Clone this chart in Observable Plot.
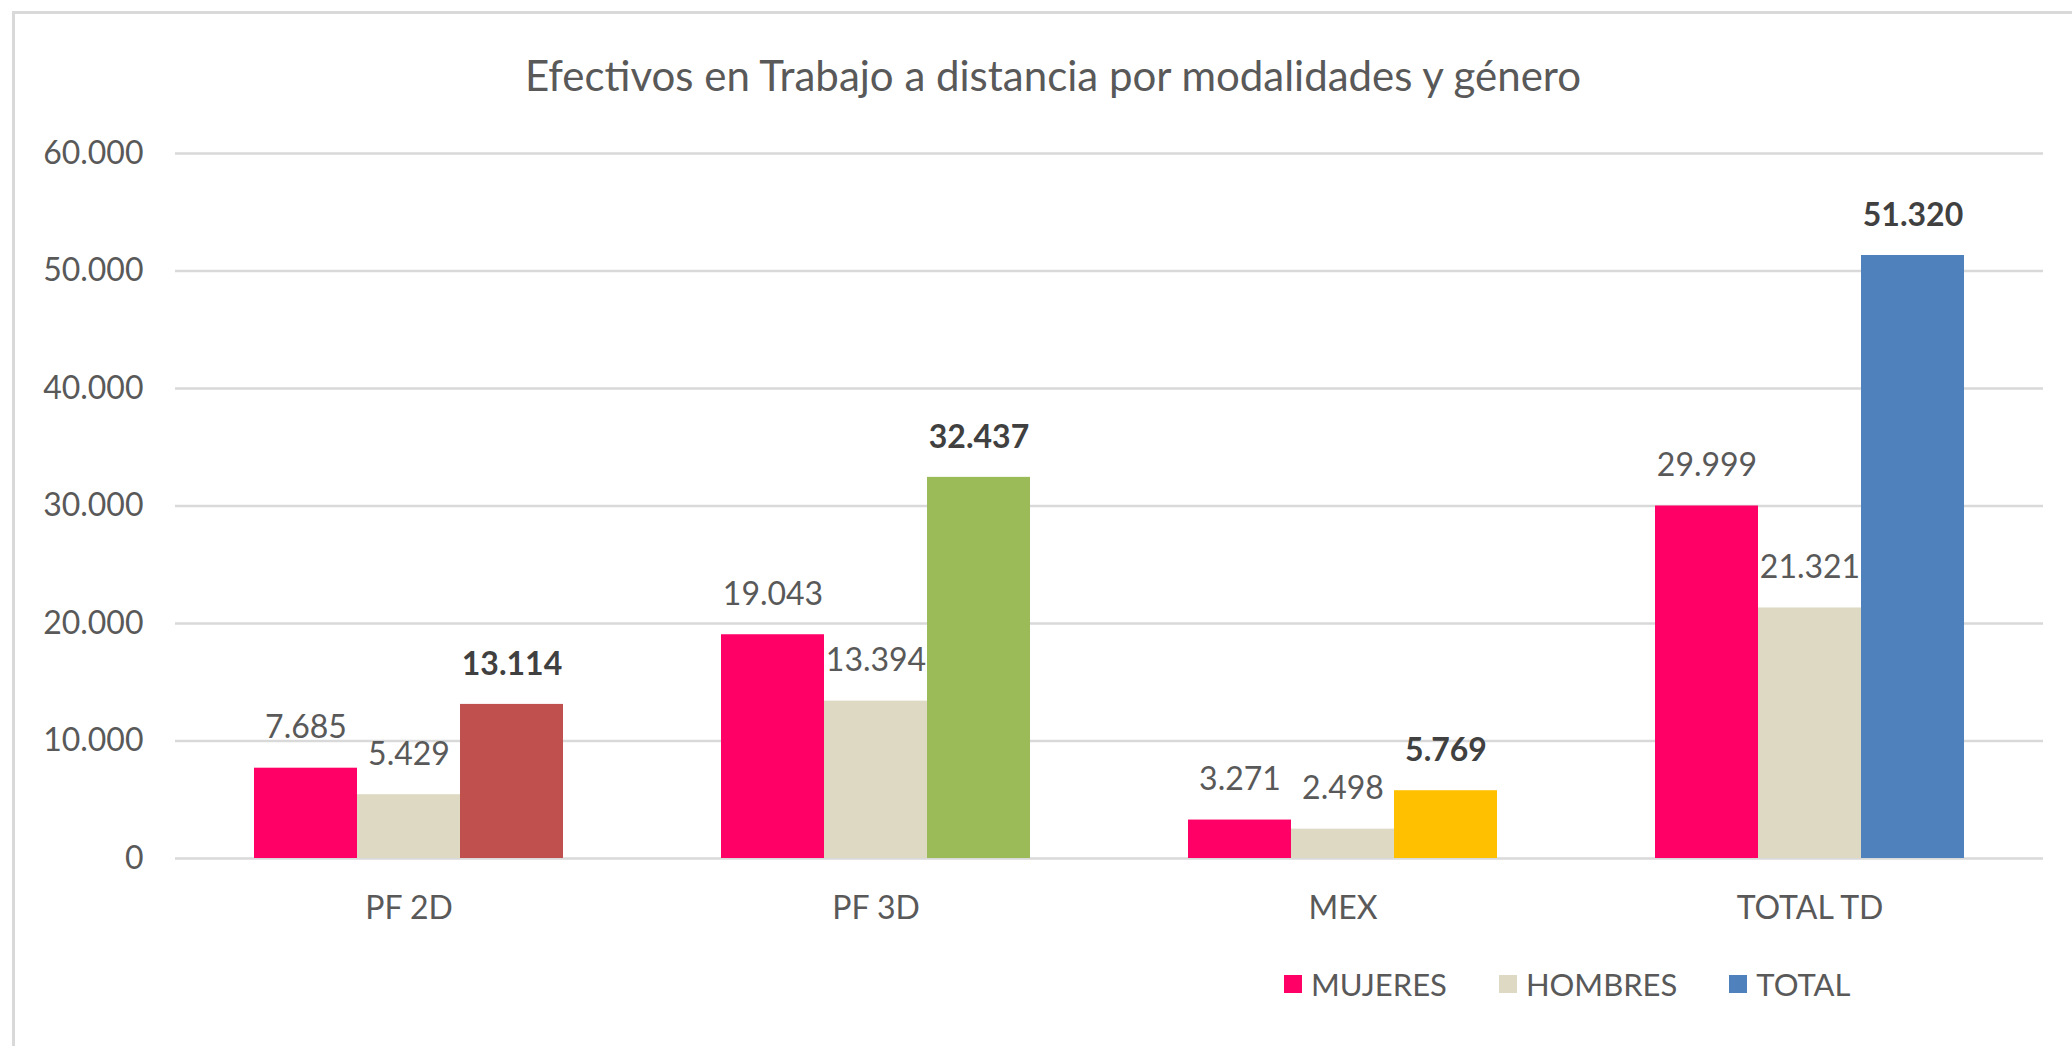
<!DOCTYPE html>
<html>
<head>
<meta charset="utf-8">
<script src="https://cdn.jsdelivr.net/npm/d3@7"></script>
<script src="https://cdn.jsdelivr.net/npm/@observablehq/plot@0.6"></script>
<style>
  html, body { margin: 0; padding: 0; background: #fff; overflow: hidden; }
  body { width: 2072px; height: 1046px; position: relative; font-family: Lato, "Open Sans", sans-serif; }
  #frame { position: absolute; left: 12px; top: 11px; width: 2100px; height: 1100px; border: 3px solid #d9d9d9; box-sizing: border-box; }
  #chart { position: absolute; left: 0; top: 0; width: 2072px; }
  #title { height: 110px; box-sizing: border-box; padding-top: 52px; line-height: 46px; font-size: 42px; color: #595959; text-align: center; padding-left: 34px; }
  #legend { margin-top: 26px; height: 40px; display: flex; align-items: center; padding-left: 1284px; font-size: 31px; color: #595959; }
  .item { display: flex; align-items: center; margin-right: 52px; }
  .sw { width: 18px; height: 18px; margin-right: 9px; }
</style>
</head>
<body>
<div id="frame"></div>
<div id="chart">
  <div id="title">Efectivos en Trabajo a distancia por modalidades y género</div>
  <div id="plot"></div>
  <div id="legend"></div>
</div>
<script>
const categories = ["PF 2D", "PF 3D", "MEX", "TOTAL TD"];
const series = ["MUJERES", "HOMBRES", "TOTAL"];
const mujeres = [7685, 19043, 3271, 29999];
const hombres = [5429, 13394, 2498, 21321];
const total = [13114, 32437, 5769, 51320];
const yTicks = [0, 10000, 20000, 30000, 40000, 50000, 60000];

const seriesColors = {MUJERES: "#FF0066", HOMBRES: "#DDD9C3", TOTAL: "#4F81BD"};
const totalColors = ["#C0504D", "#9BBB59", "#FFC000", "#4F81BD"];

const values = {MUJERES: mujeres, HOMBRES: hombres, TOTAL: total};
const data = [];
categories.forEach((c, i) => {
  series.forEach(s => {
    data.push({cat: c, serie: s, value: values[s][i], key: s === "TOTAL" ? "TOTAL " + c : s});
  });
});
const colorDomain = ["MUJERES", "HOMBRES", ...categories.map(c => "TOTAL " + c)];
const colorRange = [seriesColors.MUJERES, seriesColors.HOMBRES, ...totalColors];

const loc = d3.formatLocale({decimal: ",", thousands: ".", grouping: [3], currency: ["", "€"]});
const fmt = loc.format(",d");

const chart = Plot.plot({
  width: 2072,
  height: 828,
  marginLeft: 173,
  marginRight: 28,
  marginTop: 43,
  marginBottom: 80,
  style: {fontFamily: "Lato, 'Open Sans', sans-serif", fontSize: "32px", color: "#595959", background: "transparent"},
  facet: {data, x: "cat", marginBottom: 80},
  fx: {domain: categories, padding: 0, label: null, axis: "bottom", tickSize: 0, tickPadding: 38},
  x: {type: "band", domain: series, paddingInner: 0, paddingOuter: 0.75, axis: null},
  y: {domain: [0, 60000], ticks: yTicks, tickFormat: fmt, tickSize: 0, tickPadding: 32, label: null},
  color: {domain: colorDomain, range: colorRange},
  marks: [
    Plot.ruleY(yTicks, {stroke: "#d9d9d9", strokeWidth: 2.5}),
    Plot.barY(data, {x: "serie", y: "value", fill: "key"}),
    Plot.text(data, {filter: d => d.serie !== "TOTAL", x: "serie", y: "value", text: d => fmt(d.value), dy: -40, fill: "#595959", fontSize: 32}),
    Plot.text(data, {filter: d => d.serie === "TOTAL", x: "serie", y: "value", text: d => fmt(d.value), dy: -40, fill: "#404040", fontSize: 32, fontWeight: "bold"})
  ]
});
document.getElementById("plot").appendChild(chart);

const legend = document.getElementById("legend");
series.forEach(s => {
  const it = document.createElement("div");
  it.className = "item";
  const sw = document.createElement("div");
  sw.className = "sw";
  sw.style.background = seriesColors[s];
  const tx = document.createElement("span");
  tx.textContent = s;
  it.appendChild(sw);
  it.appendChild(tx);
  legend.appendChild(it);
});
</script>
</body>
</html>
